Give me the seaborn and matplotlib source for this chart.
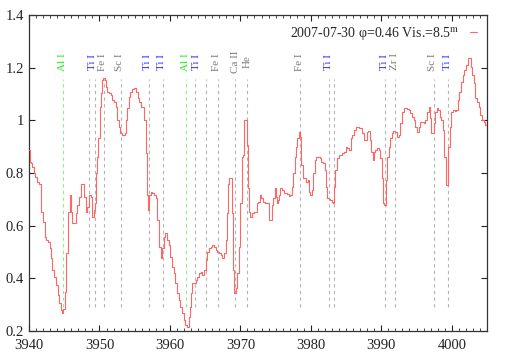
import numpy as np
import pandas as pd
import matplotlib
matplotlib.use("Agg")
import matplotlib.pyplot as plt
from matplotlib.ticker import MultipleLocator, FuncFormatter
import seaborn as sns

# spectrum (wavelength in A, normalised flux)
wave = [3940.00, 3940.24, 3940.38, 3940.57, 3940.71, 3940.95, 3941.18, 3941.56, 3941.80, 3942.13,
        3942.27, 3942.46, 3942.84, 3943.07, 3943.22, 3943.45, 3943.69, 3943.93, 3944.16, 3944.40,
        3944.64, 3944.73, 3944.97, 3945.20, 3945.44, 3945.68, 3945.91, 3946.05, 3946.29, 3946.53,
        3946.76, 3947.00, 3947.24, 3947.47, 3947.71, 3947.95, 3948.18, 3948.42, 3948.66, 3948.89,
        3949.13, 3949.32, 3949.46, 3949.60, 3949.79, 3949.93, 3950.12, 3950.31, 3950.50, 3950.64,
        3950.88, 3951.02, 3951.26, 3951.49, 3951.73, 3951.97, 3952.20, 3952.44, 3952.68, 3952.87,
        3953.10, 3953.39, 3953.72, 3953.86, 3954.05, 3954.29, 3954.52, 3954.76, 3955.04, 3955.28,
        3955.52, 3955.75, 3955.99, 3956.18,
        3956.42, 3956.65, 3956.84, 3957.03, 3957.13, 3957.36, 3957.60, 3957.84, 3958.07, 3958.31,
        3958.55, 3958.78, 3959.02, 3959.25, 3959.49, 3959.73, 3959.96, 3960.20, 3960.44, 3960.67,
        3960.91, 3961.15, 3961.38, 3961.62, 3961.86, 3962.09, 3962.33, 3962.57, 3962.71, 3962.90,
        3963.09, 3963.28, 3963.51, 3963.75, 3963.99, 3964.22, 3964.46, 3964.69, 3964.93, 3965.17,
        3965.40, 3965.64, 3965.88, 3966.11, 3966.35, 3966.59, 3966.82, 3967.06, 3967.30, 3967.53,
        3967.77, 3968.01, 3968.15, 3968.34, 3968.53, 3968.72, 3968.86, 3969.05, 3969.24, 3969.43,
        3969.66, 3969.90, 3970.13, 3970.32, 3970.51, 3970.65, 3970.84, 3970.99, 3971.18, 3971.32,
        3971.55, 3971.79, 3972.03, 3972.26,
        3972.50, 3972.60, 3972.83, 3973.07, 3973.31, 3973.78, 3974.02, 3974.16, 3974.35, 3974.49,
        3974.73, 3974.96, 3975.10, 3975.29, 3975.43, 3975.58, 3975.77, 3976.05, 3976.29, 3976.52,
        3976.76, 3976.95, 3977.23, 3977.42, 3977.61, 3977.80, 3977.99, 3978.18, 3978.37, 3978.56,
        3978.75, 3978.98, 3979.22, 3979.46, 3979.60, 3979.79, 3980.02, 3980.21, 3980.40, 3980.64,
        3980.87, 3981.11, 3981.35, 3981.58, 3981.82, 3982.06, 3982.20, 3982.39, 3982.63, 3982.86,
        3983.10, 3983.24, 3983.38, 3983.57, 3983.81, 3984.04, 3984.28, 3984.56, 3984.80, 3985.04,
        3985.27, 3985.51, 3985.75, 3985.98, 3986.22, 3986.46, 3986.69, 3986.93, 3987.17, 3987.40,
        3987.64, 3987.88, 3988.02, 3988.21, 3988.44,
        3988.68, 3988.82, 3989.01, 3989.25, 3989.49, 3989.72, 3989.96, 3990.20, 3990.34, 3990.53,
        3990.67, 3990.91, 3991.14, 3991.38, 3991.61, 3991.85, 3992.09, 3992.32, 3992.56, 3992.80,
        3993.03, 3993.27, 3993.51, 3993.74, 3993.98, 3994.22, 3994.45, 3994.69, 3994.93, 3995.16,
        3995.40, 3995.64, 3995.87, 3996.11, 3996.35, 3996.58, 3996.82, 3996.96, 3997.15, 3997.34,
        3997.53, 3997.76, 3997.91, 3998.14, 3998.38, 3998.62, 3998.85, 3999.04, 3999.23, 3999.42,
        3999.61, 3999.80, 4000.03, 4000.27, 4000.51, 4000.74, 4000.93, 4001.17, 4001.41, 4001.64,
        4001.88, 4002.12, 4002.35, 4002.59, 4002.73, 4002.97, 4003.20, 4003.44, 4003.68, 4003.91,
        4004.15, 4004.39, 4004.62, 4004.86, 4005.00]
flux = [0.887, 0.843, 0.837, 0.824, 0.800, 0.786, 0.767, 0.760, 0.653, 0.615,
        0.558, 0.545, 0.539, 0.514, 0.476, 0.432, 0.406, 0.375, 0.337, 0.305,
        0.280, 0.267, 0.282, 0.349, 0.495, 0.653, 0.716, 0.653, 0.609, 0.612,
        0.647, 0.678, 0.710, 0.760, 0.760, 0.710, 0.653, 0.672, 0.716, 0.710,
        0.634, 0.660, 0.685, 0.800, 0.862, 0.932, 1.052, 1.102, 1.153, 1.162,
        1.153, 1.128, 1.109, 1.102, 1.096, 1.077, 1.071, 1.052, 1.001, 0.973,
        0.951, 0.944, 0.951, 1.001, 1.046, 1.090, 1.109, 1.118, 1.122, 1.109,
        1.083, 1.071, 1.052, 1.052,
        1.001, 0.875, 0.716, 0.659, 0.716, 0.729, 0.723, 0.716, 0.704, 0.621,
        0.520, 0.476, 0.514, 0.558, 0.571, 0.545, 0.527, 0.482, 0.444, 0.419,
        0.381, 0.343, 0.318, 0.292, 0.267, 0.242, 0.223, 0.216, 0.255, 0.292,
        0.343, 0.381, 0.381, 0.394, 0.406, 0.419, 0.425, 0.413, 0.432, 0.470,
        0.501, 0.514, 0.520, 0.527, 0.520, 0.508, 0.501, 0.495, 0.489, 0.476,
        0.495, 0.545, 0.647, 0.760, 0.780, 0.780, 0.647, 0.432, 0.343, 0.362,
        0.419, 0.520, 0.685, 0.862, 0.868, 1.001, 1.001, 0.906, 0.742, 0.653,
        0.634, 0.647, 0.653, 0.653,
        0.685, 0.691, 0.716, 0.704, 0.691, 0.685, 0.685, 0.621, 0.621, 0.678,
        0.704, 0.742, 0.710, 0.685, 0.697, 0.716, 0.742, 0.735, 0.723, 0.725,
        0.720, 0.713, 0.716, 0.748, 0.799, 0.862, 0.900, 0.932, 0.957, 0.938,
        0.830, 0.780, 0.780, 0.767, 0.773, 0.729, 0.716, 0.735, 0.799, 0.849,
        0.859, 0.862, 0.856, 0.843, 0.837, 0.811, 0.748, 0.704, 0.700, 0.697,
        0.691, 0.685, 0.748, 0.811, 0.856, 0.868, 0.868, 0.875, 0.881, 0.900,
        0.894, 0.887, 0.932, 0.944, 0.963, 0.976, 0.973, 0.970, 0.970, 0.951,
        0.925, 0.925, 0.957, 0.961, 0.925,
        0.881, 0.849, 0.881, 0.887, 0.894, 0.887, 0.856, 0.780, 0.685, 0.678,
        0.773, 0.862, 0.900, 0.932, 0.951, 0.961, 0.957, 0.938, 0.944, 0.989,
        1.033, 1.046, 1.046, 1.043, 1.039, 1.027, 1.014, 1.001, 0.976, 0.957,
        0.976, 0.995, 0.995, 0.989, 1.001, 1.033, 1.052, 1.008, 0.951, 0.951,
        0.989, 1.033, 1.046, 1.039, 1.014, 1.001, 0.963, 0.862, 0.754, 0.754,
        0.900, 0.976, 1.033, 1.039, 1.037, 1.039, 1.077, 1.109, 1.147, 1.172,
        1.191, 1.210, 1.235, 1.235, 1.204, 1.172, 1.140, 1.083, 1.071, 1.052,
        1.020, 1.001, 0.995, 0.982, 0.975]

# line identifications: dashed marker positions and their labels
gray_lines = [3948.56, 3949.41, 3950.69, 3953.06, 3957.07, 3959.02, 3963.60, 3965.08,
              3966.78, 3969.28, 3970.90, 3978.50, 3982.62, 3983.29, 3990.57, 3991.99,
              3997.44, 3999.51]
green_lines = [3944.78, 3962.28]
label_names = ["Al I", "Ti I", "Fe I", "Sc I", "Ti I", "Ti I", "Al I", "Ti I", "Fe I",
               "Ca II", "He", "Fe I", "Ti I", "Ti I", "Zr I", "Sc I", "Ti I"]
label_pos = [3944.78, 3949.05, 3950.45, 3952.91, 3956.85, 3958.83, 3962.15, 3963.80,
             3966.68, 3969.24, 3970.90, 3978.46, 3982.48, 3990.43, 3991.94, 3997.29, 3999.37]
label_colors = {"Al I": "#22ee22", "Ti I": "#2a2aff"}

sns.set_style("ticks")
plt.rcParams["font.family"] = ["Liberation Serif", "DejaVu Serif"]
plt.rcParams["mathtext.fontset"] = "stix"

fig = plt.figure(figsize=(5.09, 3.56), dpi=100)
ax = fig.add_axes([29/509, 25/356, 458/509, 316/356])

for w in gray_lines:
    ax.plot([w, w], [0.292, 1.157], color="#b4b4b4", lw=0.8, ls=(0, (3, 3)), zorder=1)
for w in green_lines:
    ax.plot([w, w], [0.292, 1.157], color="#88f088", lw=0.8, ls=(0, (3, 3)), zorder=1)
for name, w in zip(label_names, label_pos):
    ax.text(w, 1.222, name, rotation=90, ha="center", va="center", fontsize=8,
            color=label_colors.get(name, "#7a7a7a"))

df = pd.DataFrame({"wave": wave, "flux": flux})
sns.lineplot(data=df, x="wave", y="flux", ax=ax, color="#ff6666", lw=0.8,
             drawstyle="steps-mid", estimator=None, sort=False, zorder=3,
             label="2007-07-30 φ=0.46 Vis.=8.5$^{\\mathrm{m}}$")

ax.set_xlim(3940, 4005)
ax.set_ylim(0.2, 1.4)
ax.set_xlabel("")
ax.set_ylabel("")
ax.xaxis.set_major_locator(MultipleLocator(10))
ax.xaxis.set_minor_locator(MultipleLocator(1))
ax.yaxis.set_major_locator(MultipleLocator(0.2))
ax.yaxis.set_major_formatter(FuncFormatter(lambda v, p: f"{v:g}"))
ax.tick_params(which="both", direction="in", top=True, right=True, labelsize=10.5, colors="#222222")
ax.tick_params(which="major", length=4, width=0.8)
ax.tick_params(which="minor", length=2, width=0.6)
ax.tick_params(axis="x", pad=6)
for s in ax.spines.values():
    s.set_linewidth(0.9)
    s.set_color("#333333")

leg = ax.legend(loc="upper right", frameon=False, markerfirst=False, handlelength=0.5,
                fontsize=10, borderaxespad=0.3, handletextpad=0.8)

fig.savefig("out.png", dpi=100)
